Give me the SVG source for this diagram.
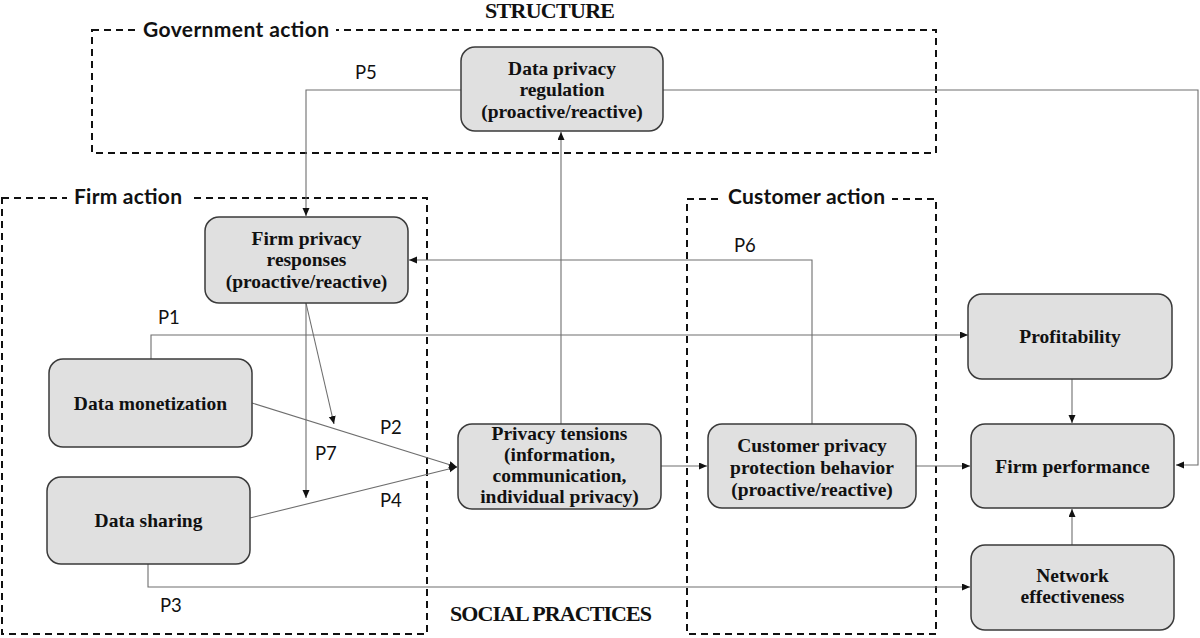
<svg xmlns="http://www.w3.org/2000/svg" width="1200" height="638" viewBox="0 0 1200 638">
<style>
.node rect{fill:#e0e0e0;stroke:#3a3a3a;stroke-width:1.5}
.nt{font-family:"Liberation Serif","Times New Roman",serif;font-weight:bold;font-size:19.5px;fill:#111;text-anchor:middle}
.grp{fill:none;stroke:#111;stroke-width:2;stroke-dasharray:7 5}
.gl{font-family:Lato,"Liberation Sans",sans-serif;font-weight:bold;font-size:21px;fill:#111}
.pl{font-family:Lato,"Liberation Sans",sans-serif;font-size:18.5px;fill:#111}
.hd{font-family:"Liberation Serif","Times New Roman",serif;font-weight:bold;font-size:22px;fill:#111;text-anchor:middle}
.cn path{fill:none;stroke:#6e6e6e;stroke-width:1.1;marker-end:url(#ah)}
.mask{fill:#fff}
</style>
<defs>
<marker id="ah" markerUnits="userSpaceOnUse" markerWidth="9" markerHeight="8" refX="8" refY="3.5" orient="auto">
<path d="M0,0 L8,3.5 L0,7 z" fill="#111"/>
</marker>
</defs>
<rect width="1200" height="638" fill="#fff"/>

<g id="groups">
<rect class="grp" x="92" y="30" width="844" height="123"/>
<rect class="mask" x="136" y="18" width="200" height="24"/>
<text class="gl" x="143" y="37" textLength="186">Government action</text>
<rect class="grp" x="2" y="198" width="425" height="436"/>
<rect class="mask" x="67" y="186" width="122" height="24"/>
<text class="gl" x="74" y="204" textLength="108">Firm action</text>
<rect class="grp" x="687" y="199" width="249" height="435"/>
<rect class="mask" x="721" y="186" width="171" height="24"/>
<text class="gl" x="728" y="204" textLength="157">Customer action</text>
</g>

<text class="hd" x="550" y="18" textLength="130">STRUCTURE</text>
<text class="hd" x="551" y="621" textLength="202">SOCIAL PRACTICES</text>

<g id="connectors" class="cn">
<path d="M461,90 H306 V216"/>
<path d="M663,90 H1198 V465 H1176"/>
<path d="M561,424 V132"/>
<path d="M812,424 V260 H409"/>
<path d="M151,359 V335 H968"/>
<path d="M252,403 L457,467"/>
<path d="M250,518 L457,467"/>
<path d="M306,303 V498"/>
<path d="M306,303 L334,424"/>
<path d="M661,466 H707"/>
<path d="M916,466 H970"/>
<path d="M1072,379 V423"/>
<path d="M1072,545 V509"/>
<path d="M148,564 V587 H970"/>
</g>

<g id="labels">
<text class="pl" x="355" y="79">P5</text>
<text class="pl" x="158" y="324">P1</text>
<text class="pl" x="380" y="434">P2</text>
<text class="pl" x="315" y="460">P7</text>
<text class="pl" x="380" y="507">P4</text>
<text class="pl" x="734" y="252">P6</text>
<text class="pl" x="160" y="612">P3</text>
</g>

<g id="n-regulation" class="node">
<rect x="461" y="47" width="202" height="84" rx="14"/>
<text class="nt" x="562" y="75">Data privacy</text>
<text class="nt" x="562" y="96">regulation</text>
<text class="nt" x="562" y="118">(proactive/reactive)</text>
</g>
<g id="n-firm-responses" class="node">
<rect x="205" y="217" width="203" height="86" rx="14"/>
<text class="nt" x="306.5" y="245">Firm privacy</text>
<text class="nt" x="306.5" y="266">responses</text>
<text class="nt" x="306.5" y="288">(proactive/reactive)</text>
</g>
<g id="n-monetization" class="node">
<rect x="49" y="359" width="203" height="88" rx="14"/>
<text class="nt" x="150.5" y="410">Data monetization</text>
</g>
<g id="n-sharing" class="node">
<rect x="47" y="477" width="203" height="87" rx="14"/>
<text class="nt" x="148.5" y="527">Data sharing</text>
</g>
<g id="n-tensions" class="node">
<rect x="458" y="424" width="203" height="85" rx="14"/>
<text class="nt" x="559.5" y="440">Privacy tensions</text>
<text class="nt" x="559.5" y="461">(information,</text>
<text class="nt" x="559.5" y="482">communication,</text>
<text class="nt" x="559.5" y="503">individual privacy)</text>
</g>
<g id="n-customer" class="node">
<rect x="708" y="424" width="208" height="84" rx="14"/>
<text class="nt" x="812" y="452">Customer privacy</text>
<text class="nt" x="812" y="474">protection behavior</text>
<text class="nt" x="812" y="496">(proactive/reactive)</text>
</g>
<g id="n-profitability" class="node">
<rect x="968" y="294" width="204" height="85" rx="14"/>
<text class="nt" x="1070" y="343">Profitability</text>
</g>
<g id="n-performance" class="node">
<rect x="971" y="424" width="203" height="84" rx="14"/>
<text class="nt" x="1072.5" y="473">Firm performance</text>
</g>
<g id="n-network" class="node">
<rect x="971" y="545" width="203" height="85" rx="14"/>
<text class="nt" x="1072.5" y="582">Network</text>
<text class="nt" x="1072.5" y="603">effectiveness</text>
</g>
</svg>
